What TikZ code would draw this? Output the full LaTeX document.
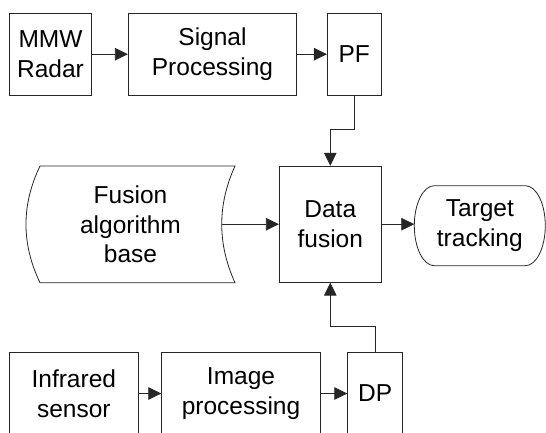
\documentclass[tikz,border=0pt]{standalone}
\usepackage{fontspec}
\setmainfont{Liberation Sans}
\usetikzlibrary{arrows.meta}
\begin{document}
\begin{tikzpicture}[x=1pt,y=-1pt,
  txt/.style={inner sep=0pt,align=center,font=\fontsize{24.5}{29.5}\selectfont},
  box/.style={txt,draw=black!85,line width=0.8pt},
  shp/.style={draw=black!85,line width=0.8pt},
  conn/.style={draw=black!85,line width=0.8pt,-{Triangle[length=13pt,width=12.5pt]}}]
\useasboundingbox (0,0) rectangle (546,432);
\clip (0,0) rectangle (546,432);
% top row
\node[box,minimum width=82.4pt,minimum height=81.7pt] (mmw) at (50.5,54.2) {MMW\\Radar};
\node[box,minimum width=168.4pt,minimum height=81.7pt] (sp) at (212.5,54.2) {Signal\\Processing};
\node[box,minimum width=53.7pt,minimum height=81.7pt] (pf) at (354.2,54.2) {PF};
% middle row
\node[box,minimum width=102pt,minimum height=116pt] (df) at (330.3,224.2) {Data\\fusion};
\draw[shp] (40,166) -- (235,166)
  .. controls (217.3,204.9) and (217.3,243.8) .. (235,282.7)
  -- (40,282.7)
  .. controls (21.3,243.8) and (21.3,204.9) .. (40,166) -- cycle;
\node[txt] (fab) at (130.5,224.3) {Fusion\\algorithm\\base};
\coordinate (fabR) at (221.7,224.2);
\draw[shp] (434.3,185.7) -- (525.3,185.7) arc[start angle=90,end angle=-90,x radius=20,y radius=-40]
  -- (434.3,265.7) arc[start angle=-90,end angle=-270,x radius=20,y radius=-40] -- cycle;
\node[txt] (tt) at (479.8,225.7) {Target\\tracking};
\coordinate (ttL) at (414.3,224.2);
% bottom row
\node[box,minimum width=129pt,minimum height=81.7pt] (ir) at (73.8,393.5) {Infrared\\sensor};
\node[box,minimum width=158.6pt,minimum height=81.7pt] (ip) at (241,393.5) {Image\\processing};
\node[box,minimum width=55pt,minimum height=81.7pt] (dp) at (375.2,393.5) {DP};
% connectors
\draw[conn] (mmw) -- (sp);
\draw[conn] (sp) -- (pf);
\draw[conn] (pf.south) -- ++(0,34.3) -| (df.north);
\draw[conn] (fabR) -- (fabR -| df.west);
\draw[conn] (df.east) -- (ttL);
\draw[conn] (ir) -- (ip);
\draw[conn] (ip) -- (dp);
\draw[conn] (dp.north) -- ++(0,-26) -| (df.south);
\end{tikzpicture}
\end{document}
